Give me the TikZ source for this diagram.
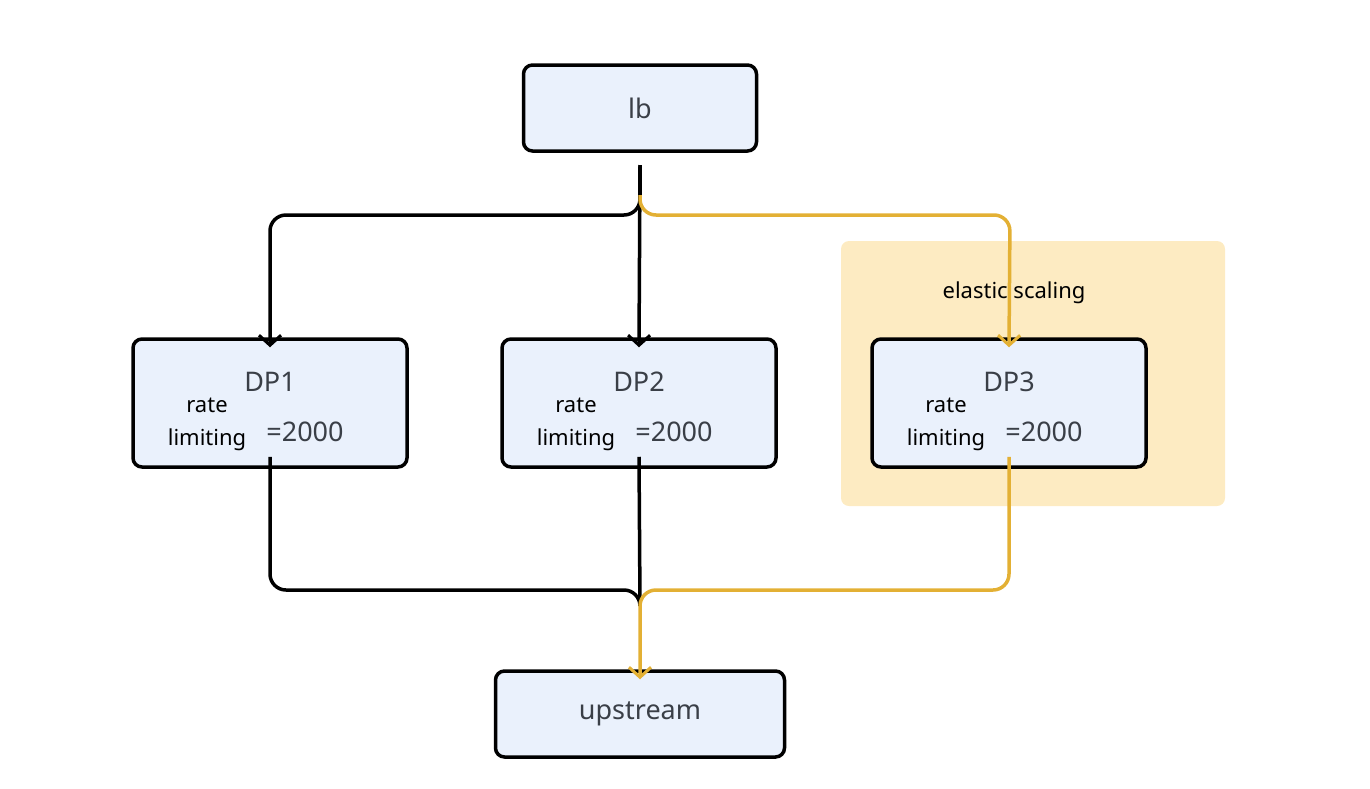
\documentclass[tikz,border=0pt]{standalone}
\usepackage{fontspec}
\setmainfont{Noto Sans}
\usetikzlibrary{arrows.meta}
\definecolor{boxfill}{HTML}{EAF1FC}
\definecolor{ylw}{HTML}{E3B034}
\definecolor{ybg}{HTML}{FDEBC2}
\definecolor{txtg}{HTML}{3A3F47}
\begin{document}
\begin{tikzpicture}[x=1pt,y=-1pt,
  box/.style={draw=black,line width=3.5pt,fill=boxfill,rounded corners=9pt,inner sep=0pt},
  conn/.style={line width=3.5pt,rounded corners=16pt,-{Straight Barb[length=10pt,width=22pt,line width=3pt]}},
  line/.style={line width=3.5pt,rounded corners=16pt},
  big/.style={font=\fontsize{27}{30}\selectfont,text=txtg},
  small/.style={font=\fontsize{22}{24}\selectfont,text=black}]
\useasboundingbox (0,0) rectangle (1370,788);
\fill[ybg,rounded corners=8pt] (841,241) rectangle (1225,506);
\node[box,minimum width=233pt,minimum height=86pt] (lb) at (640,108) {};
\node[big] (lbt) at (640,108) {lb};
\node[box,minimum width=274pt,minimum height=128pt] (dp1) at (270,403) {};
\node[box,minimum width=274pt,minimum height=128pt] (dp2) at (639,403) {};
\node[box,minimum width=274pt,minimum height=128pt] (dp3) at (1009,403) {};
\node[box,minimum width=289pt,minimum height=86pt] (up) at (640,714) {};
\node[big] (upt) at (640,714) {upstream};
\foreach \n/\x/\t in {a/270/DP1,b/639/DP2,c/1009/DP3}{
  \node[big] (t\n) at (\x,382) {\t};
  \node[small] (r\n) at (\x-63,405) {rate};
  \node[small] (l\n) at (\x-63,440) {limiting};
  \node[big] (e\n) at (\x+35,432) {=2000};
}
\node[small] (es) at (1014,293) {elastic scaling};
\coordinate (s) at (640,165);
\coordinate (m) at (640,605);
\draw[conn] (s) |- (270,215) -- ([yshift=-10pt]dp1.north);
\draw[conn] (s) -- ([yshift=-10pt]dp2.north);
\draw[conn,ylw] (640,195) |- (1010,215) -- ([yshift=-10pt]dp3.north);
\draw[line] ([yshift=12pt]dp1.south) |- (640,590) -- (m);
\draw[line] ([yshift=12pt]dp2.south) -- (m);
\draw[conn,ylw] ([yshift=12pt]dp3.south) |- (640,590) -- ([yshift=-10pt]up.north);
\end{tikzpicture}
\end{document}
